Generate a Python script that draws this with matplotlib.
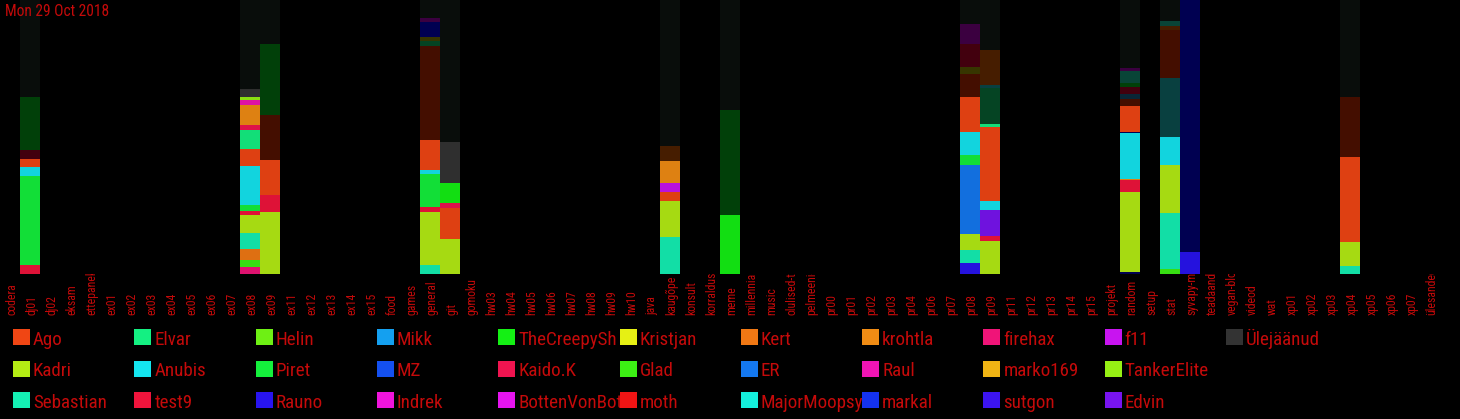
import matplotlib

matplotlib.use("Agg")
import matplotlib.pyplot as plt
from matplotlib import font_manager
from matplotlib.patches import Rectangle
from matplotlib.transforms import Bbox, TransformedBbox, blended_transform_factory

W, H = 1460, 419
RED = "#c40a0a"
DATE = "Mon 29 Oct 2018"

channels = [
    "codera", "dj01", "dj02", "eksam", "ettepanek", "ex01", "ex02", "ex03", "ex04", "ex05",
    "ex06", "ex07", "ex08", "ex09", "ex11", "ex12", "ex13", "ex14", "ex15", "food",
    "games", "general", "git", "gomoku", "hw03", "hw04", "hw05", "hw06", "hw07", "hw08",
    "hw09", "hw10", "java", "kaugõpe", "konsult", "korraldus", "meme", "millennialid", "music",
    "olulised-teated", "pelmeeni-klubi", "pr00", "pr01", "pr02", "pr03", "pr04", "pr06", "pr07",
    "pr08", "pr09", "pr11", "pr12", "pr13", "pr14", "pr15", "projekt", "random", "setup",
    "stat", "syvapy-ml", "teadaanded", "vegan-blogi", "videod", "wat", "xp01", "xp02", "xp03",
    "xp04", "xp05", "xp06", "xp07", "ülesanded",
]

# legend entries (column-major, 3 rows)
users = [
    "Ago", "Kadri", "Sebastian", "Elvar", "Anubis", "test9", "Helin", "Piret", "Rauno",
    "Mikk", "MZ", "Indrek", "TheCreepySh", "Kaido.K", "BottenVonBot", "Kristjan", "Glad",
    "moth", "Kert", "ER", "MajorMoopsy", "krohtla", "Raul", "markal", "firehax", "marko169",
    "sutgon", "f11", "TankerElite", "Edvin", "Ülejäänud",
]
user_colors = [
    "#f04614", "#b4ec14", "#14f0b4", "#14f082", "#14e6f0", "#f0143c", "#6ef014", "#14f03c",
    "#2814f0", "#14a0f0", "#1450f0", "#f014dc", "#14f014", "#f01450", "#e614f0", "#e6f014",
    "#3cf014", "#f01414", "#f07814", "#1478f0", "#14f0dc", "#f08c14", "#f014b4", "#1432f0",
    "#f01478", "#f0b414", "#3c14f0", "#c814f0", "#96f014", "#7814f0", "#333333",
]

# dark colours of the less active users shown only in the bars
other_colors = {
    "rest": "#0a0f0c", "dgreen": "#02460a", "dgreen2": "#064a26", "dmaroon": "#480010",
    "dbrown": "#4a1000", "dbrown2": "#4c2000", "dpurple": "#400046", "navy": "#000058",
    "olive": "#3c3a00", "dteal": "#0a4646", "dteal2": "#0a4a3c", "dtealblue": "#0a2a3c",
}

# message counts per channel, bottom -> top
dj01 = [("test9", 9), ("Piret", 89), ("Anubis", 9), ("Ago", 8), ("dmaroon", 9), ("dgreen", 53), ("rest", 97)]
ex08 = [("firehax", 7), ("Glad", 7), ("Kert", 11), ("Sebastian", 16), ("Kadri", 18), ("test9", 4),
        ("Piret", 6), ("Anubis", 39), ("Ago", 17), ("Elvar", 19), ("Kaido.K", 5), ("krohtla", 20),
        ("Raul", 5), ("TankerElite", 3), ("Ülejäänud", 8), ("rest", 89)]
ex09 = [("Kadri", 62), ("test9", 17), ("Ago", 35), ("dbrown", 45), ("dgreen", 71), ("rest", 44)]
general = [("Sebastian", 9), ("Kadri", 53), ("test9", 5), ("Piret", 33), ("Anubis", 4), ("Ago", 30),
           ("dbrown", 94), ("dgreen2", 5), ("olive", 4), ("navy", 15), ("dpurple", 4), ("rest", 18)]
git = [("Kadri", 35), ("Ago", 31), ("Kaido.K", 5), ("TheCreepySh", 20), ("Ülejäänud", 41), ("rest", 142)]
kaugope = [("Sebastian", 37), ("Kadri", 36), ("Ago", 9), ("f11", 9), ("krohtla", 22), ("dbrown2", 15), ("rest", 146)]
meme = [("TheCreepySh", 59), ("dgreen", 105), ("rest", 110)]
pr08 = [("Rauno", 11), ("Sebastian", 13), ("Kadri", 16), ("ER", 69), ("Piret", 10), ("Anubis", 23),
        ("Ago", 35), ("dbrown", 23), ("olive", 7), ("dmaroon", 23), ("dpurple", 20), ("rest", 24)]
pr09 = [("Kadri", 33), ("test9", 5), ("Edvin", 26), ("Anubis", 9), ("Ago", 74), ("Elvar", 3),
        ("dgreen2", 36), ("dteal", 3), ("dbrown2", 35), ("rest", 50)]
random_ch = [("navy", 2), ("Kadri", 80), ("test9", 12), ("krohtla", 1), ("Anubis", 46), ("navy", 1),
             ("Ago", 26), ("dbrown", 7), ("dtealblue", 5), ("dmaroon", 7), ("dgreen", 4),
             ("dteal2", 12), ("dpurple", 3), ("rest", 68)]
stat = [("Glad", 5), ("Sebastian", 56), ("Kadri", 48), ("Anubis", 28), ("dteal", 59), ("dbrown", 48),
        ("dbrown2", 4), ("dteal2", 5), ("rest", 21)]
syvapy = [("Rauno", 22), ("navy", 252)]
xp04 = [("Sebastian", 8), ("Kadri", 24), ("Ago", 85), ("dbrown", 60), ("rest", 97)]

stacks = {
    "dj01": dj01, "ex08": ex08, "ex09": ex09, "general": general, "git": git,
    "kaugõpe": kaugope, "meme": meme, "pr08": pr08, "pr09": pr09, "random": random_ch,
    "stat": stat, "syvapy-ml": syvapy, "xp04": xp04,
}

# narrow font if there is one
available = {f.name for f in font_manager.fontManager.ttflist}
narrow = next((f for f in ["Liberation Sans Narrow", "DejaVu Sans Condensed", "Roboto Condensed"]
               if f in available), "Liberation Sans")
scale = 1.0 if ("Narrow" in narrow or "Condensed" in narrow) else 0.82
plt.rcParams["font.family"] = [narrow, "DejaVu Sans"]

colors = dict(zip(users, user_colors))
colors.update(other_colors)

fig = plt.figure(figsize=(W / 100, H / 100), dpi=100, facecolor="black")
ax_h = 274 / H
ax = fig.add_axes([0, 1 - ax_h, 1440 / W, ax_h])
ax.set_facecolor("black")
ax.set_xlim(-0.5, len(channels) - 0.5)
ax.set_ylim(0, 1)
ax.axis("off")

for ch, segs in stacks.items():
    x = channels.index(ch)
    total = sum(v for _, v in segs)
    bottom = 0.0
    for key, v in segs:
        h = v / total
        ax.bar(x, h, bottom=bottom, width=1.0, color=colors[key], alpha=0.93, linewidth=0)
        bottom += h

fig.text(5 / W, 1 - 4 / H, DATE, ha="left", va="top", color=RED, fontsize=11.2 * scale)

# channel labels, reading upward from a common baseline, cut at the bars
label_clip = TransformedBbox(Bbox([[0, 0], [1, 1 - ax_h]]), fig.transFigure)
trans = blended_transform_factory(ax.transData, fig.transFigure)
for i, ch in enumerate(channels):
    t = fig.text(i + 0.1, 1 - 315 / H, ch, transform=trans, rotation=90, ha="center",
                 va="bottom", color=RED, fontsize=8.5 * scale)
    t.set_clip_box(label_clip)
    t.set_clip_on(True)

# legend, 3 rows
col_w = 121.3
row_top = [329, 360.5, 392]
for i, (name, col) in enumerate(zip(users, user_colors)):
    c, r = divmod(i, 3)
    x0 = 13 + col_w * c
    y0 = row_top[r]
    fig.add_artist(Rectangle((x0 / W, 1 - (y0 + 16) / H), 17 / W, 16 / H,
                             transform=fig.transFigure, color=col, linewidth=0))
    t = fig.text((x0 + 20) / W, 1 - (y0 + 16) / H, name, ha="left", va="baseline",
                 color=RED, fontsize=13.7 * scale)
    clip = TransformedBbox(Bbox([[x0 / W, 0], [(x0 + col_w) / W, 1]]), fig.transFigure)
    t.set_clip_box(clip)
    t.set_clip_on(True)

fig.savefig("out.png", dpi=100, facecolor="black")
